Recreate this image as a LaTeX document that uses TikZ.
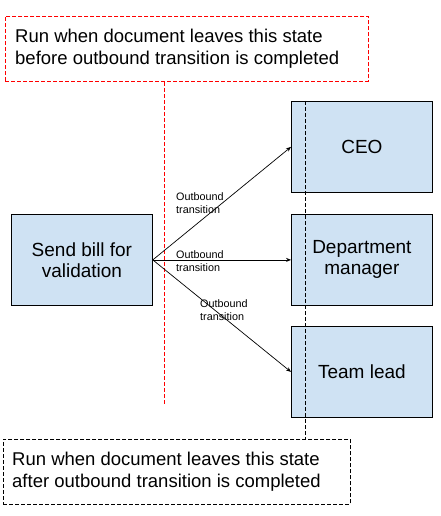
\documentclass[tikz,border=0pt]{standalone}
\usepackage{fontspec}
\setmainfont{Liberation Sans}
\usetikzlibrary{arrows.meta}
\definecolor{boxblue}{HTML}{CFE2F3}
\definecolor{notered}{HTML}{FF0000}
\begin{document}
\begin{tikzpicture}[x=1pt,y=-1pt,
  state/.style={draw=black,fill=boxblue,line width=0.8pt,minimum width=141pt,minimum height=91pt,inner sep=0pt,font=\fontsize{19}{21}\selectfont,align=center,anchor=north west},
  note/.style={line width=0.8pt,dash pattern=on 4pt off 2pt,anchor=north west,inner sep=0pt},
  notetext/.style={font=\fontsize{18.5}{22}\selectfont,align=left,anchor=west,inner sep=0pt},
  lbl/.style={font=\fontsize{10.8}{13}\selectfont,align=left,inner sep=0pt,anchor=west},
  conn/.style={line width=0.7pt,-{Stealth[length=5pt,width=4pt]}}
]
\useasboundingbox (0,0) rectangle (440,516);
\node[note,draw=notered,minimum width=363pt,minimum height=65pt] (top) at (5,16) {};
\node[notetext] (toptext) at (15,49) {Run when document leaves this state\\before outbound transition is completed};
\node[note,draw=black,minimum width=347pt,minimum height=65pt] (bot) at (3,439) {};
\node[notetext] (bottext) at (12,472) {Run when document leaves this state\\after outbound transition is completed};

\node[state] (send) at (11,214) {Send bill for\\validation};
\node[state] (ceo) at (291,101) {CEO};
\node[state] (dept) at (291,214) {Department\\manager};
\node[state] (team) at (291,326) {Team lead};

\coordinate (redend) at (164,405);
\draw[notered,line width=0.8pt,dash pattern=on 4pt off 2pt] (top.south -| redend) -- (redend);
\draw[black,line width=0.8pt,dash pattern=on 4pt off 2pt] (ceo.north west) ++(14,0) coordinate (bl) -- (bl |- bot.north);

\draw[conn] (send.east) -- (ceo.west);
\draw[conn] (send.east) -- (dept.west);
\draw[conn] (send.east) -- (team.west);

\node[lbl] (l1) at (176,203) {Outbound\\transition};
\node[lbl] (l2) at (176,261) {Outbound\\transition};
\node[lbl] (l3) at (200,310) {Outbound\\transition};
\end{tikzpicture}
\end{document}
